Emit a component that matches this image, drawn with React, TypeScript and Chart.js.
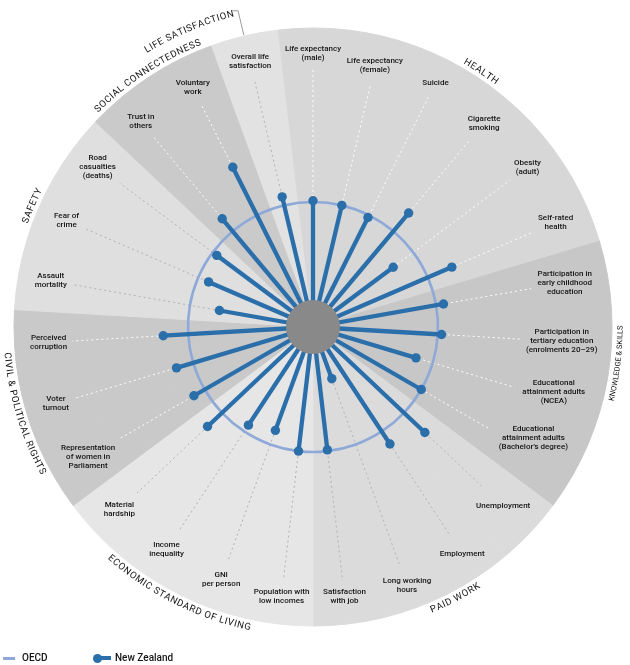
import React, { useEffect, useRef } from 'react';
import { Chart, registerables } from 'chart.js';

Chart.register(...registerables);

// ---------- data ----------
const indicatorLabels: string[] = [
  'Overall life\nsatisfaction',
  'Life expectancy\n(male)',
  'Life expectancy\n(female)',
  'Suicide',
  'Cigarette\nsmoking',
  'Obesity\n(adult)',
  'Self-rated\nhealth',
  'Participation in\nearly childhood\neducation',
  'Participation in\ntertiary education\n(enrolments 20–29)',
  'Educational\nattainment adults\n(NCEA)',
  'Educational\nattainment adults\n(Bachelor’s degree)',
  'Unemployment',
  'Employment',
  'Long working\nhours',
  'Satisfaction\nwith job',
  'Population with\nlow incomes',
  'GNI\nper person',
  'Income\ninequality',
  'Material\nhardship',
  'Representation\nof women in\nParliament',
  'Voter\nturnout',
  'Perceived\ncorruption',
  'Assault\nmortality',
  'Fear of\ncrime',
  'Road\ncasualties\n(deaths)',
  'Trust in\nothers',
  'Voluntary\nwork',
];

// New Zealand relative to the OECD average (OECD = 1)
const nzValues: number[] = [
  1.07, 1.01, 1.0, 0.98, 1.19, 0.8, 1.21,
  1.06, 1.03, 0.86, 1.0,
  1.23, 1.12, 0.44, 0.99,
  1.0, 0.88, 0.94, 1.16,
  1.1, 1.14, 1.2,
  0.76, 0.91, 0.96,
  1.13, 1.43,
];

const oecdValues: number[] = [
  1, 1, 1, 1, 1, 1, 1, 1, 1, 1, 1, 1, 1, 1, 1, 1, 1, 1, 1, 1, 1, 1, 1, 1, 1, 1, 1,
];

const domainNames: string[] = [
  'LIFE SATISFACTION',
  'HEALTH',
  'KNOWLEDGE & SKILLS',
  'PAID WORK',
  'ECONOMIC STANDARD OF LIVING',
  'CIVIL & POLITICAL RIGHTS',
  'SAFETY',
  'SOCIAL CONNECTEDNESS',
];
const domainSizes: number[] = [1, 6, 4, 4, 4, 3, 3, 2];

// ---------- styles / layout ----------
const domainColors = ['#e2e2e2', '#d7d7d7', '#c7c7c7', '#dbdbdb', '#e6e6e6', '#c9c9c9', '#dfdfdf', '#cacaca'];
const dashColors = ['#b2b2b2', '#ffffff', '#ffffff', '#b2b2b2', '#b2b2b2', '#ffffff', '#b2b2b2', '#ffffff'];
const domainAngleShiftDeg = [-9.4, 0, -3.2, -1, 0, 0, 0, 0];
const domainRadiusShift = [17, 0, 0, 0, 0, 0, 0, 0];
const domainFontSize = [9.5, 9.5, 7.5, 9.5, 9.5, 9.5, 9.5, 9.5];
const domainSpacing = [0.6, 0.6, 0, 0.6, 0.6, 0.6, 0.6, 0.6];
// per-label placement nudges: [radius px, angle deg]
const labelNudge: Record<number, [number, number]> = {
  0: [3, 0],
  9: [-2, -1.6],
  10: [-2, -3.2],
  12: [4, 0],
  13: [8, 0],
  19: [5, 0],
  24: [7, 0],
};
const BLUE = '#2a6eaa';
const OECD_BLUE = '#8ea9d8';
const RING_MAX = 2.392;
const HUB_VALUE = 0.216;
const LABEL_FONT = '500 8px Roboto';
const TEXT_COLOR = '#141414';

const domainOf: number[] = [];
domainSizes.forEach((n, d) => {
  for (let k = 0; k < n; k++) domainOf.push(d);
});

function labelGeometry(ctx: CanvasRenderingContext2D, scale: any, i: number) {
  ctx.font = LABEL_FONT;
  const lines = indicatorLabels[i].split('\n');
  const w = Math.max(...lines.map((l) => ctx.measureText(l).width));
  const h = lines.length * 9;
  const a = scale.getIndexAngle(i);
  const s = Math.abs(Math.sin(a)) * (w / 2) + Math.abs(Math.cos(a)) * (h / 2);
  const nudge = labelNudge[i] || [0, 0];
  const dist = scale.drawingArea * 0.943 - 0.9 * s + nudge[0];
  return { lines, w, h, s, dist, idx: i + nudge[1] / (360 / indicatorLabels.length) };
}

function drawArcText(
  ctx: CanvasRenderingContext2D,
  text: string,
  cx: number,
  cy: number,
  radius: number,
  center: number,
  clockwise: boolean,
  spacing: number
) {
  const chars = [...text];
  const widths = chars.map((c) => ctx.measureText(c).width);
  const total = widths.reduce((a, b) => a + b, 0) + spacing * (chars.length - 1);
  const totalAngle = total / radius;
  ctx.textAlign = 'center';
  ctx.textBaseline = 'alphabetic';
  let a = clockwise ? center - totalAngle / 2 : center + totalAngle / 2;
  chars.forEach((c, i) => {
    const w = widths[i];
    const mid = clockwise ? a + w / 2 / radius : a - w / 2 / radius;
    ctx.save();
    ctx.translate(cx + radius * Math.sin(mid), cy - radius * Math.cos(mid));
    ctx.rotate(clockwise ? mid : mid + Math.PI);
    ctx.fillText(c, 0, 0);
    ctx.restore();
    a = clockwise ? a + (w + spacing) / radius : a - (w + spacing) / radius;
  });
}

const decorPlugin = {
  id: 'wellbeingDecor',
  afterDatasetDraw(chart: any, args: any) {
    const ctx: CanvasRenderingContext2D = chart.ctx;
    const scale = chart.scales.r;
    if (args.meta.type === 'polarArea') {
      // dashed guide lines from the centre to each indicator label
      ctx.save();
      ctx.lineWidth = 1;
      ctx.setLineDash([2, 3]);
      indicatorLabels.forEach((_, i) => {
        const g = labelGeometry(ctx, scale, i);
        const end = scale.getPointPosition(i, g.dist - g.s - 5);
        ctx.strokeStyle = dashColors[domainOf[i]];
        ctx.beginPath();
        ctx.moveTo(scale.xCenter, scale.yCenter);
        ctx.lineTo(end.x, end.y);
        ctx.stroke();
      });
      ctx.restore();
    }
  },
  beforeDatasetDraw(chart: any, args: any) {
    if (args.meta.label !== 'New Zealand') return;
    const ctx: CanvasRenderingContext2D = chart.ctx;
    const scale = chart.scales.r;
    ctx.save();
    ctx.strokeStyle = BLUE;
    ctx.lineWidth = 4.3;
    args.meta.data.forEach((pt: any) => {
      ctx.beginPath();
      ctx.moveTo(scale.xCenter, scale.yCenter);
      ctx.lineTo(pt.x, pt.y);
      ctx.stroke();
    });
    ctx.restore();
  },
  afterDatasetsDraw(chart: any) {
    const ctx: CanvasRenderingContext2D = chart.ctx;
    const scale = chart.scales.r;
    ctx.save();
    ctx.fillStyle = '#898989';
    ctx.beginPath();
    ctx.arc(scale.xCenter, scale.yCenter, scale.getDistanceFromCenterForValue(HUB_VALUE), 0, Math.PI * 2);
    ctx.fill();
    ctx.restore();
  },
  afterDraw(chart: any) {
    const ctx: CanvasRenderingContext2D = chart.ctx;
    const scale = chart.scales.r;
    const cx = scale.xCenter;
    const cy = scale.yCenter;
    ctx.save();
    // indicator labels
    ctx.fillStyle = TEXT_COLOR;
    indicatorLabels.forEach((_, i) => {
      const g = labelGeometry(ctx, scale, i);
      const p = scale.getPointPosition(g.idx, g.dist);
      ctx.font = LABEL_FONT;
      ctx.textAlign = 'center';
      ctx.textBaseline = 'middle';
      g.lines.forEach((line, k) => {
        ctx.fillText(line, p.x, p.y - g.h / 2 + 4.5 + k * 9);
      });
    });
    // domain labels along the rim
    ctx.fillStyle = TEXT_COLOR;
    let start = 0;
    domainNames.forEach((name, d) => {
      const n = domainSizes[d];
      const centerIdx = start + (n - 1) / 2;
      start += n;
      ctx.font = `${domainFontSize[d]}px Roboto`;
      const ang = scale.getIndexAngle(centerIdx) + (domainAngleShiftDeg[d] * Math.PI) / 180;
      const norm = ((ang % (2 * Math.PI)) + 2 * Math.PI) % (2 * Math.PI);
      const clockwise = !(norm > Math.PI / 2 && norm < (3 * Math.PI) / 2);
      const r = (clockwise ? scale.drawingArea + 4.5 : scale.drawingArea + 10.5) + domainRadiusShift[d];
      drawArcText(ctx, name, cx, cy, r, ang, clockwise, domainSpacing[d]);
    });
    // leader line for the life satisfaction label
    const p1 = scale.getPointPosition(0, scale.drawingArea + 1);
    const p2 = scale.getPointPosition(0, scale.drawingArea + 26);
    ctx.strokeStyle = '#9a9a9a';
    ctx.lineWidth = 1;
    ctx.beginPath();
    ctx.moveTo(p1.x, p1.y);
    ctx.lineTo(p2.x, p2.y);
    ctx.lineTo(p2.x - 6, p2.y);
    ctx.stroke();
    ctx.restore();
  },
};

export default function App() {
  const canvasRef = useRef<HTMLCanvasElement | null>(null);

  useEffect(() => {
    const canvas = canvasRef.current;
    if (!canvas) return;
    const wedgeColors = indicatorLabels.map((_, i) => domainColors[domainOf[i]]);
    const chart = new Chart(canvas, {
      type: 'radar',
      data: {
        labels: indicatorLabels,
        datasets: [
          {
            type: 'polarArea',
            label: 'domains',
            data: indicatorLabels.map(() => RING_MAX),
            backgroundColor: wedgeColors,
            borderColor: wedgeColors,
            borderWidth: 1,
            rAxisID: 'rWedge',
            order: 3,
          } as any,
          {
            label: 'OECD',
            data: oecdValues,
            borderColor: OECD_BLUE,
            borderWidth: 2.6,
            pointRadius: 0,
            pointHoverRadius: 0,
            fill: false,
            tension: 0.34,
            rAxisID: 'r',
            order: 2,
          },
          {
            label: 'New Zealand',
            data: nzValues,
            showLine: false,
            pointRadius: 4.7,
            pointHoverRadius: 4.7,
            pointBackgroundColor: BLUE,
            pointBorderWidth: 0,
            borderColor: BLUE,
            fill: false,
            rAxisID: 'r',
            order: 1,
          },
        ],
      },
      options: {
        responsive: false,
        animation: false,
        events: [],
        layout: { padding: { left: 14, top: 28, right: 18, bottom: 39 } },
        plugins: {
          legend: { display: false },
          tooltip: { enabled: false },
        },
        scales: {
          r: {
            display: false,
            min: 0,
            max: RING_MAX,
            startAngle: -360 / 27,
            ticks: { display: false },
            pointLabels: { display: false },
            grid: { display: false },
            angleLines: { display: false },
          },
          rWedge: {
            type: 'radialLinear',
            axis: 'r',
            display: false,
            min: 0,
            max: RING_MAX,
            startAngle: -1.5 * (360 / 27),
            ticks: { display: false },
            pointLabels: { display: false },
            grid: { display: false },
            angleLines: { display: false },
          },
        },
      } as any,
      plugins: [decorPlugin],
    });
    return () => chart.destroy();
  }, []);

  const legendText: React.CSSProperties = {
    position: 'absolute',
    top: 652,
    lineHeight: '12px',
    fontFamily: 'Roboto, sans-serif',
    fontSize: 10,
    fontWeight: 500,
    color: TEXT_COLOR,
    whiteSpace: 'nowrap',
  };

  return (
    <div style={{ position: 'absolute', left: 0, top: 0, width: 630, height: 665, overflow: 'hidden', background: '#fff' }}>
      <canvas ref={canvasRef} width={630} height={665} style={{ display: 'block' }} />
      <span style={{ position: 'absolute', left: 3, top: 657, width: 12, height: 3, background: OECD_BLUE }} />
      <span style={{ ...legendText, left: 22 }}>OECD</span>
      <span style={{ position: 'absolute', left: 98, top: 656, width: 13, height: 4, background: BLUE }} />
      <span style={{ position: 'absolute', left: 93, top: 653.5, width: 9, height: 9, borderRadius: '50%', background: BLUE }} />
      <span style={{ ...legendText, left: 115 }}>New Zealand</span>
    </div>
  );
}
